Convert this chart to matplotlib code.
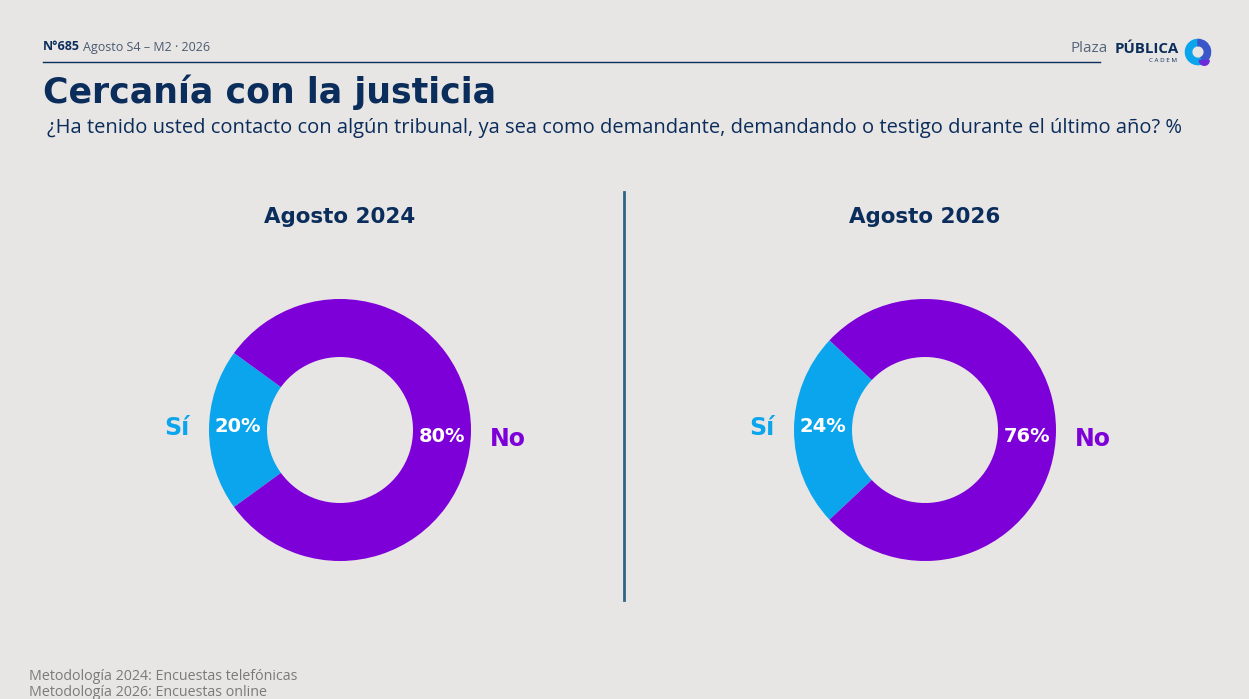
import matplotlib.pyplot as plt
from matplotlib.patches import Wedge

# Data
years = ['Agosto 2024', 'Agosto 2026']
categories = ['Sí', 'No']
values_2024 = [20, 80]
values_2026 = [24, 76]
series = [values_2024, values_2026]

BG = '#E8E6E4'
NAVY = '#0B2D5B'
BLUE = '#0AA5EC'
PURPLE = '#7E00D9'
GREY = '#7A7A7A'

W, H = 1249, 699
fig = plt.figure(figsize=(W / 100, H / 100), dpi=100, facecolor=BG)


def px(x, y):
    return x / W, 1 - y / H


# header
fig.text(*px(43, 47), 'N°685', fontsize=9, color=NAVY, fontweight='bold', va='center', family='Open Sans')
fig.text(*px(83, 47), 'Agosto S4 – M2 · 2026', fontsize=9, color='#4A5A70', va='center', family='Open Sans')
fig.add_artist(plt.Line2D([43 / W, 1100 / W], [1 - 62 / H] * 2, color=NAVY, lw=1))
fig.text(*px(1071, 49), 'Plaza', fontsize=11, color='#55657A', va='center', family='Open Sans')
fig.text(*px(1115, 49), 'PÚBLICA', fontsize=10.8, color=NAVY, va='center', fontweight='bold', family='Open Sans')
fig.text(*px(1163, 60), 'C A D E M', fontsize=4.5, color=NAVY, va='center', ha='center', family='Open Sans')
logo = fig.add_axes([1184 / W, 1 - 66 / H, 28 / W, 28 / H])
logo.set_xlim(-1, 1)
logo.set_ylim(-1, 1)
logo.set_aspect('equal')
logo.axis('off')
logo.add_patch(Wedge((0, 0), 0.9, 90, 300, width=0.45, color=BLUE))
logo.add_patch(Wedge((0, 0), 0.9, 300, 450, width=0.45, color='#3A56C8'))
logo.add_patch(Wedge((0.45, -0.6), 0.35, 180, 360, color='#6A2BD9'))

# titles
fig.text(*px(43, 92), 'Cercanía con la justicia', fontsize=25, color=NAVY, fontweight='bold',
         va='center', family='DejaVu Sans')
fig.text(*px(47, 128), '¿Ha tenido usted contacto con algún tribunal, ya sea como demandante, '
         'demandando o testigo durante el último año? %', fontsize=14.5, color=NAVY, va='center',
         family='Open Sans')

# separator
fig.add_artist(plt.Line2D([624 / W] * 2, [1 - 192 / H, 1 - 600 / H], color='#2E6585', lw=2))

centers = [340, 925]
R, RIN = 131, 73
for cx, year, vals in zip(centers, years, series):
    fig.text(*px(cx, 217), year, fontsize=15.4, color=NAVY, fontweight='bold', ha='center', va='center',
             family='DejaVu Sans')
    ax = fig.add_axes([(cx - 200) / W, 1 - (430 + 150) / H, 400 / W, 300 / H])
    ax.set_facecolor(BG)
    start = 180 - vals[0] * 3.6 / 2
    ax.pie(vals, colors=[BLUE, PURPLE], startangle=start, radius=R, center=(0, 0),
           wedgeprops=dict(width=R - RIN, linewidth=0), frame=True)
    ax.set_xlim(-200, 200)
    ax.set_ylim(-150, 150)
    ax.set_aspect('equal')
    ax.axis('off')
    mid = (R + RIN) / 2
    ax.text(-mid, 3, f'{vals[0]}%', color='white', fontsize=14, fontweight='bold', ha='center', va='center')
    ax.text(mid, -6, f'{vals[1]}%', color='white', fontsize=14, fontweight='bold', ha='center', va='center')
    ax.text(-163, 2, categories[0], color=BLUE, fontsize=17, fontweight='bold', ha='center', va='center')
    ax.text(168, -9, categories[1], color=PURPLE, fontsize=17, fontweight='bold', ha='center', va='center')

# footer
fig.text(*px(29, 677), 'Metodología 2024: Encuestas telefónicas', fontsize=10.3, color=GREY, va='center',
         family='Open Sans')
fig.text(*px(29, 692), 'Metodología 2026: Encuestas online', fontsize=10.3, color=GREY, va='center',
         family='Open Sans')

fig.savefig('out.png', dpi=100, facecolor=BG)
